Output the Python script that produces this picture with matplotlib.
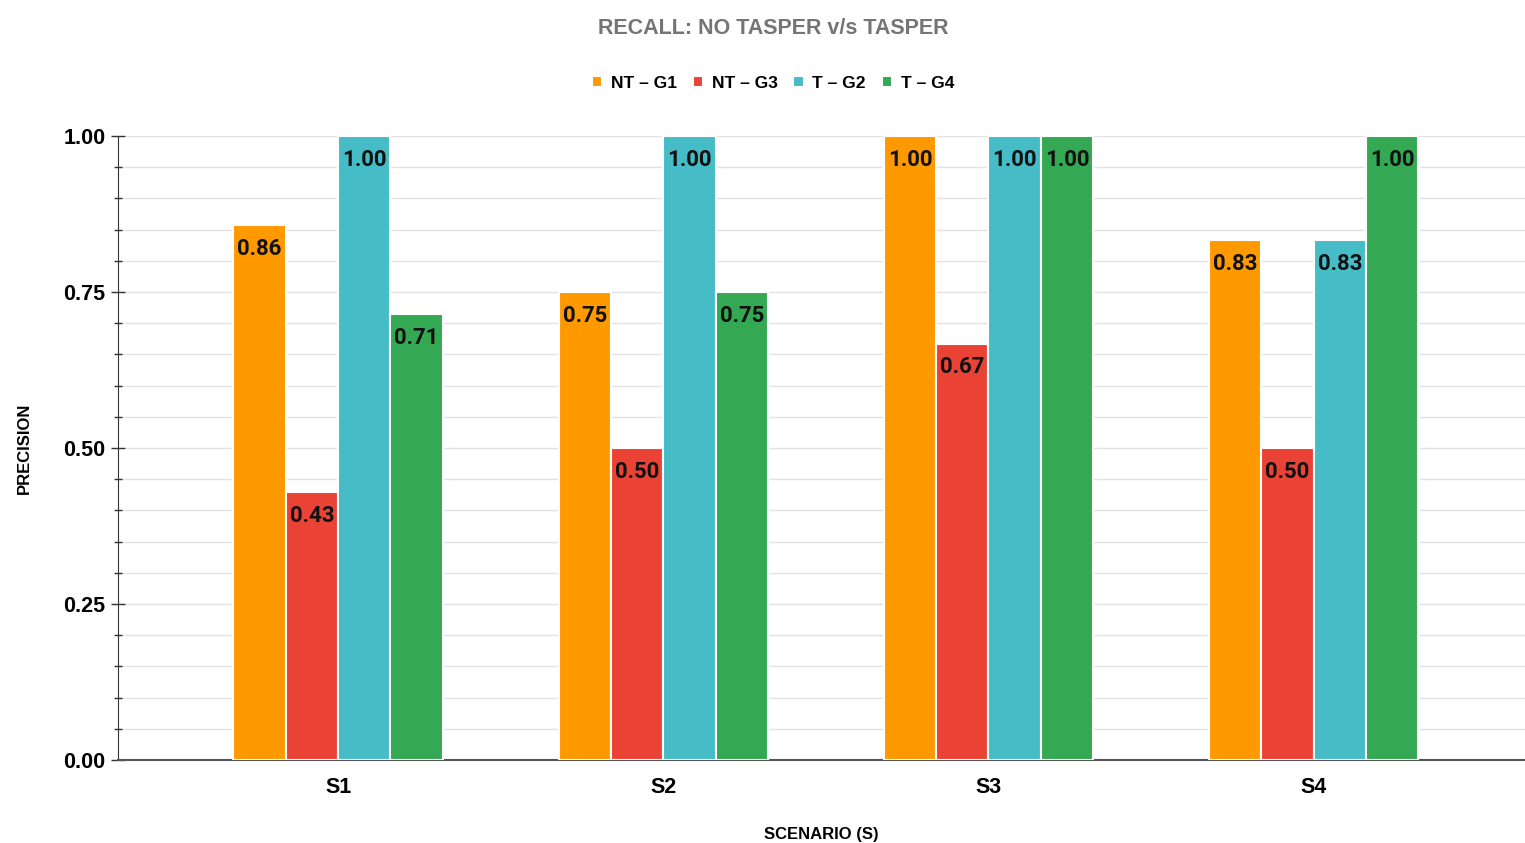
import matplotlib.pyplot as plt
import numpy as np

# chart data
scenarios = ["S1", "S2", "S3", "S4"]
series = ["NT – G1", "NT – G3", "T – G2", "T – G4"]
nt_g1 = [0.857, 0.75, 1.00, 0.833]
nt_g3 = [0.429, 0.50, 0.667, 0.50]
t_g2 = [1.00, 1.00, 1.00, 0.833]
t_g4 = [0.714, 0.75, 1.00, 1.00]
colors = ["#FF9900", "#EA4335", "#46BDC6", "#34A853"]

plt.rcParams['font.family'] = ['Liberation Sans', 'DejaVu Sans']

fig = plt.figure(figsize=(15.25, 8.43), dpi=100)
ax = fig.add_axes([118 / 1525, 1 - 760 / 843, 1 - 118 / 1525, 624 / 843])

x = np.arange(len(scenarios))
w = 0.161
for i, (vals, name, c) in enumerate(zip([nt_g1, nt_g3, t_g2, t_g4], series, colors)):
    pos = x + (i - 1.5) * w
    ax.bar(pos, vals, width=w, color=c, edgecolor="white", linewidth=1.5,
           label=name, zorder=3)
    for px, v in zip(pos, vals):
        ax.annotate(f"{v:.2f}", (px, v), xytext=(0, -17), textcoords="offset points",
                    ha="center", va="center", fontsize=16, fontweight="bold",
                    family="Roboto", color="#111111", zorder=4)

ax.set_xlim(-0.677, 3.65)
ax.set_ylim(0, 1)
ax.set_yticks([0, 0.25, 0.5, 0.75, 1.0])
ax.set_yticks(np.arange(0, 1.0001, 0.05), minor=True)
ax.set_yticklabels([f"{t:.2f}" for t in [0, 0.25, 0.5, 0.75, 1.0]],
                   fontsize=15.5, fontweight="bold")
ax.set_xticks(x)
ax.set_xticklabels(scenarios, fontsize=15.5, fontweight="bold")
ax.tick_params(axis="x", length=0, pad=12)
ax.tick_params(axis="y", which="major", direction="inout", length=10, width=1,
               color="#333333", pad=4)
ax.tick_params(axis="y", which="minor", direction="inout", length=6, width=1,
               color="#333333")
ax.grid(axis="y", which="both", color="#e3e3e3", linewidth=1, zorder=0)

for s in ["top", "right"]:
    ax.spines[s].set_visible(False)
ax.spines["left"].set_color("#333333")
ax.spines["bottom"].set_color("#555555")
ax.spines["bottom"].set_linewidth(1.5)

ax.set_ylabel("PRECISION", fontsize=12, fontweight="bold", labelpad=23)
ax.set_xlabel("SCENARIO (S)", fontsize=12, fontweight="bold", labelpad=21)

fig.text(773 / 1525, 1 - 29 / 843, "RECALL: NO TASPER v/s TASPER", ha="center",
         va="center", fontsize=15.5, fontweight="bold", color="#757575")

leg = fig.legend(loc="center", bbox_to_anchor=(773 / 1525, 1 - 83 / 843), ncol=4,
                 frameon=False, handlelength=0.6, handleheight=0.6,
                 handletextpad=0.5, columnspacing=0.9,
                 prop={"size": 12.5, "weight": "bold"})

fig.savefig("out.png", dpi=100)
